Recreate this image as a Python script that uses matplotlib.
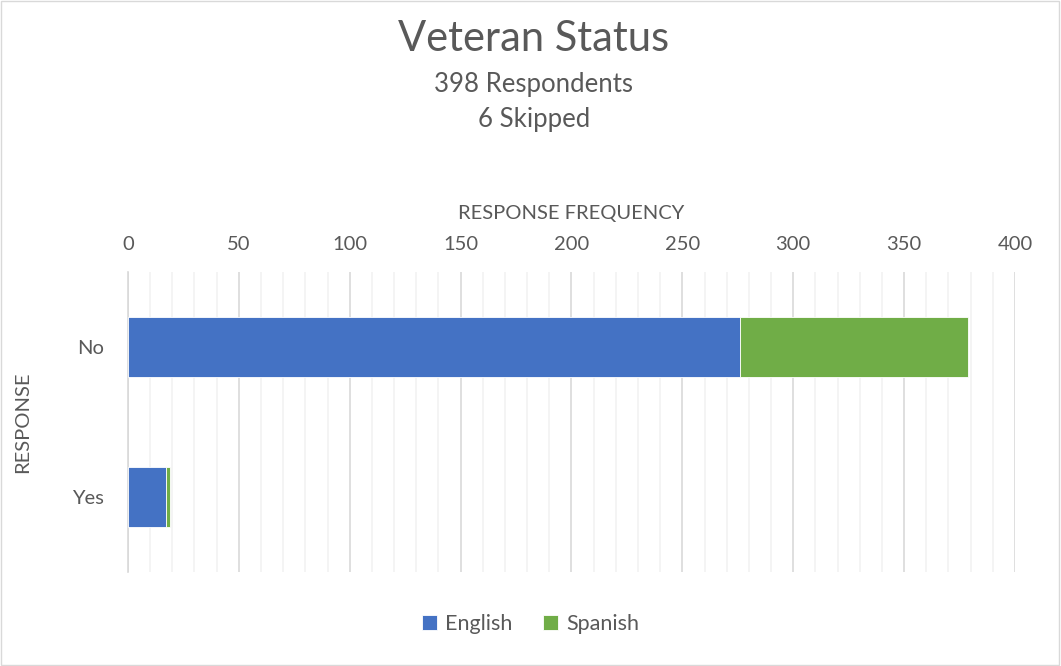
import matplotlib.pyplot as plt
from matplotlib.patches import Rectangle
import numpy as np

responses = ["No", "Yes"]
english = [276, 17]
spanish = [103, 2]

plt.rcParams['font.family'] = ['Lato', 'DejaVu Sans']
txt = "#595959"

fig = plt.figure(figsize=(10.61, 6.66), dpi=100)
ax = fig.add_axes([0.1206, 0.1411, 0.836, 0.4505])

y = np.arange(len(responses))
ax.barh(y, english, height=0.4, color="#4472c4", label="English",
        edgecolor="white", linewidth=0.6, zorder=3)
ax.barh(y, spanish, left=english, height=0.4, color="#70ad47", label="Spanish",
        edgecolor="white", linewidth=0.6, zorder=3)

ax.set_xlim(0, 400)
ax.set_ylim(1.5, -0.5)
ax.set_yticks(y)
ax.set_yticklabels(responses)
ax.set_xticks(np.arange(0, 401, 50))
ax.set_xticks(np.arange(0, 401, 10), minor=True)
ax.xaxis.tick_top()
ax.xaxis.set_label_position("top")
ax.tick_params(axis="both", which="both", length=0, colors=txt, labelsize=14.5)
ax.tick_params(axis="x", pad=14)
ax.tick_params(axis="y", pad=17)
ax.grid(axis="x", which="major", color="#d9d9d9", linewidth=1.2, zorder=0)
ax.grid(axis="x", which="minor", color="#f2f2f2", linewidth=1.2, zorder=0)
for s in ["top", "right", "bottom"]:
    ax.spines[s].set_visible(False)
ax.spines["left"].set_color("#d9d9d9")
ax.spines["left"].set_linewidth(1.2)

ax.set_xlabel("RESPONSE FREQUENCY", color=txt, fontsize=14.5, labelpad=12)
ax.set_ylabel("RESPONSE", color=txt, fontsize=14.5, labelpad=30)

fig.text(0.503, 0.942, "Veteran Status", ha="center", va="center", fontsize=30, color=txt)
fig.text(0.503, 0.873, "398 Respondents", ha="center", va="center", fontsize=18.5, color=txt)
fig.text(0.503, 0.821, "6 Skipped", ha="center", va="center", fontsize=18.5, color=txt)

ax.legend(loc="center", bbox_to_anchor=(0.5, 0.063), bbox_transform=fig.transFigure,
          ncol=2, frameon=False, fontsize=15.5, handlelength=0.7, handleheight=0.7,
          columnspacing=1.4, handletextpad=0.4, labelcolor=txt)

fig.patches.append(Rectangle((0.001, 0.002), 0.997, 0.996, transform=fig.transFigure,
                             fill=False, edgecolor="#d9d9d9", linewidth=1))

plt.savefig("out.png", dpi=100)
